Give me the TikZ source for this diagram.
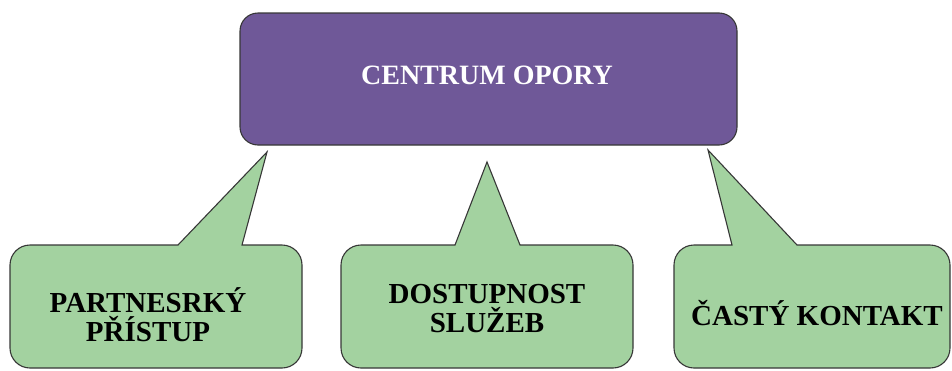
\documentclass[tikz,border=0pt]{standalone}
\usepackage{fontspec}
\setmainfont{Liberation Serif}
\definecolor{fialova}{RGB}{111,88,152}
\definecolor{zelena}{RGB}{163,210,160}
\definecolor{okraj}{RGB}{55,55,55}
\tikzset{
  hlavni/.style={rectangle,rounded corners=18,draw=okraj,line width=1.1,fill=fialova,
    text=white,font=\fontsize{28}{28}\selectfont\bfseries},
  bublina/.style={draw=okraj,line width=1.1,fill=zelena},
  popis/.style={align=center,text=black,font=\fontsize{29}{29}\selectfont\bfseries}
}
\begin{document}
\begin{tikzpicture}[x=1pt,y=-1pt]
\useasboundingbox (0,0) rectangle (952,370);
\node(opora) at (488.5,79)[hlavni,minimum width=497,minimum height=132] {};
\node(nazev) at (487,75)[text=white,font=\fontsize{28}{28}\selectfont\bfseries] {CENTRUM OPORY};
\coordinate(hrot1) at (267,152);
\coordinate(hrot2) at (487,162);
\coordinate(hrot3) at (708,150);
% bubliny
\draw[bublina] (10,306) [rounded corners=20] -- (10,245) [sharp corners] -- (178,245) -- (hrot1) -- (242,245)
  [rounded corners=20] -- (302,245) -- (302,368) -- (10,368) -- cycle;
\draw[bublina] (341,306) [rounded corners=20] -- (341,245) [sharp corners] -- (455,245) -- (hrot2) -- (520,245)
  [rounded corners=20] -- (633,245) -- (633,368) -- (341,368) -- cycle;
\draw[bublina] (674,306) [rounded corners=20] -- (674,245) [sharp corners] -- (732,245) -- (hrot3) -- (797,245)
  [rounded corners=20] -- (950,245) -- (950,368) -- (674,368) -- cycle;
\node(pristup) at (148,315)[popis] {PARTNESRKÝ\\PŘÍSTUP};
\node(sluzby) at (487,309)[popis] {DOSTUPNOST\\SLUŽEB};
\node(kontakt) at (817,313)[popis] {ČASTÝ KONTAKT};
\end{tikzpicture}
\end{document}
